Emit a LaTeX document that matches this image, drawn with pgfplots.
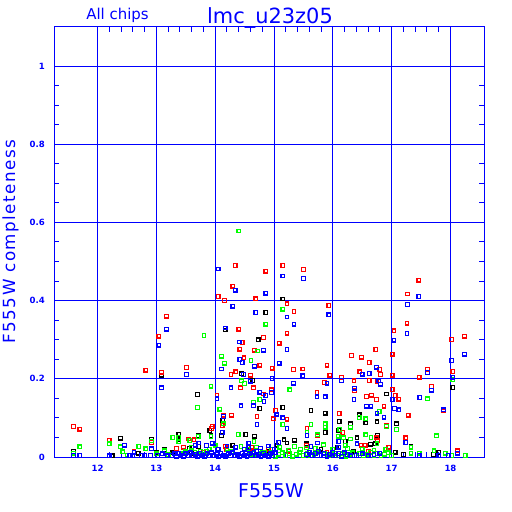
\documentclass[border=0pt]{standalone}
\usepackage{fontspec}
\setmainfont{DejaVu Sans}
\newfontfamily\ylabfont[LetterSpace=9]{DejaVu Sans}
\newfontfamily\tickfont{DejaVu Sans}
\usepackage{pgfplots}
\pgfplotsset{compat=1.18}
\begin{document}
\begin{tikzpicture}
\useasboundingbox (0,0) rectangle (512bp,512bp);
\begin{axis}[
  at={(54bp,55bp)}, anchor=south west,
  width=430bp, height=430bp, scale only axis,
  xmin=11.26, xmax=18.57, ymin=0, ymax=1.1,
  xtick={12,13,14,15,16,17,18},
  ytick={0,0.2,0.4,0.6,0.8,1},
  minor x tick num=4, minor y tick num=3,
  tick align=inside,
  major tick length=5bp, minor tick length=5bp,
  every tick/.style={blue, line width=1bp},
  axis line style={blue, line width=1bp},
  grid=major,
  major grid style={blue, line width=1bp},
  /pgf/number format/assume math mode=true,
  tick label style={font=\tickfont\bfseries\fontsize{8.6}{10}\selectfont, text=blue},
  xticklabel style={anchor=base, inner sep=0pt, yshift=-14bp},
  yticklabel style={anchor=east, inner sep=0pt, xshift=-9bp},
  clip=false,
  every axis plot/.append style={only marks, mark=square, mark size=1.8bp, line width=1.25bp},
]
% black
\addplot[black] coordinates {
(11.59,0.014) (12.39,0.048) (12.69,0.010) (12.92,0.046) (13.09,0.209) (13.14,0.019) (13.28,0.011) (13.38,0.058) (13.38,0.044) (13.56,0.022) (13.70,0.160) (13.71,0.055) (13.72,0.027) (13.91,0.068) (13.93,0.055) (14.11,0.055) (14.13,0.094) (14.17,0.325) (14.45,0.213) (14.52,0.058) (14.56,0.027) (14.64,0.196) (14.67,0.053) (14.73,0.30) (14.76,0.124) (14.86,0.37) (15.05,0.030) (15.15,0.404) (15.15,0.127) (15.17,0.044) (15.22,0.036) (15.35,0.043) (15.55,0.034) (15.63,0.119) (15.87,0.112) (15.87,0.063) (16.07,0.025) (16.10,0.068) (16.11,0.091) (16.21,0.040) (16.30,0.085) (16.41,0.049) (16.45,0.108) (16.56,0.087) (16.64,0.033) (16.72,0.034) (16.75,0.09) (16.76,0.055) (16.91,0.161) (17.06,0.012) (17.08,0.085) (17.20,0.006) (17.33,0.027) (17.76,0.055) (17.80,0.012) (17.71,0.006) (18.04,0.178) (12.25,0.003) (13.00,0.012) (13.60,0.010) (14.30,0.030) (14.90,0.015) (15.80,0.020) (16.35,0.015) (16.90,0.020)
};
% red
\addplot[red] coordinates {
(11.59,0.078) (11.70,0.071) (12.20,0.042) (12.62,0.014) (12.82,0.222) (12.92,0.037) (13.04,0.309) (13.09,0.217) (13.17,0.36) (13.34,0.022) (13.46,0.025) (13.51,0.229) (13.55,0.046) (13.64,0.044) (13.94,0.073) (13.95,0.078) (14.03,0.157) (14.05,0.411) (14.12,0.081) (14.14,0.107) (14.16,0.40) (14.17,0.027) (14.19,0.020) (14.27,0.211) (14.28,0.107) (14.30,0.437) (14.34,0.49) (14.35,0.218) (14.40,0.327) (14.42,0.276) (14.43,0.177) (14.44,0.027) (14.46,0.293) (14.49,0.254) (14.60,0.209) (14.62,0.025) (14.65,0.177) (14.67,0.273) (14.69,0.405) (14.71,0.104) (14.76,0.235) (14.82,0.161) (14.82,0.306) (14.86,0.475) (14.96,0.172) (14.97,0.227) (14.99,0.098) (15.03,0.119) (15.09,0.291) (15.15,0.49) (15.22,0.392) (15.22,0.317) (15.22,0.097) (15.33,0.224) (15.34,0.372) (15.49,0.225) (15.50,0.48) (15.55,0.029) (15.56,0.073) (15.73,0.165) (15.74,0.054) (15.86,0.191) (15.90,0.235) (15.93,0.388) (15.95,0.209) (16.11,0.111) (16.15,0.204) (16.17,0.063) (16.32,0.26) (16.36,0.195) (16.37,0.17) (16.46,0.218) (16.48,0.03) (16.49,0.255) (16.55,0.03) (16.57,0.155) (16.62,0.242) (16.62,0.196) (16.66,0.158) (16.73,0.275) (16.74,0.147) (16.74,0.049) (16.75,0.194) (16.76,0.043) (16.80,0.224) (16.81,0.211) (16.87,0.13) (16.91,0.081) (17.01,0.263) (17.01,0.209) (17.01,0.173) (17.04,0.323) (17.06,0.157) (17.12,0.148) (17.24,0.049) (17.26,0.342) (17.27,0.417) (17.28,0.107) (17.46,0.452) (17.47,0.204) (17.61,0.224) (17.68,0.18) (17.88,0.118) (18.02,0.301) (18.04,0.219) (18.12,0.016) (18.24,0.309)
(14.10,0.010) (14.60,0.012) (15.25,0.015) (15.90,0.012) (16.60,0.015) (16.95,0.025) (14.90,0.020) (13.80,0.012)
};
% green
\addplot[green] coordinates {
(11.59,0.010) (11.70,0.026) (12.20,0.034) (12.39,0.026) (12.43,0.013) (12.50,0.005) (12.55,0.004) (12.70,0.027) (12.82,0.021) (12.92,0.041) (13.00,0.008) (13.14,0.016) (13.20,0.006) (13.28,0.05) (13.38,0.05) (13.38,0.039) (13.45,0.008) (13.57,0.042) (13.50,0.013) (13.65,0.012) (13.70,0.127) (13.71,0.052) (13.81,0.311) (13.85,0.015) (13.93,0.181) (13.93,0.052) (14.00,0.03) (14.08,0.122) (14.11,0.258) (14.14,0.085) (14.16,0.24) (14.28,0.014) (14.39,0.058) (14.40,0.578) (14.44,0.027) (14.45,0.195) (14.50,0.188) (14.61,0.247) (14.65,0.139) (14.66,0.04) (14.72,0.271) (14.76,0.147) (14.86,0.34) (14.80,0.012) (15.15,0.378) (15.15,0.083) (15.27,0.172) (15.35,0.027) (15.55,0.023) (15.56,0.064) (15.63,0.083) (15.74,0.057) (15.84,0.031) (15.87,0.085) (15.87,0.076) (16.09,0.053) (16.12,0.07) (16.18,0.049) (16.21,0.03) (16.30,0.076) (16.30,0.046) (16.45,0.101) (16.56,0.098) (16.56,0.057) (16.65,0.05) (16.75,0.034) (16.79,0.116) (16.91,0.078) (17.08,0.07) (17.33,0.025) (17.33,0.01) (17.47,0.01) (17.61,0.149) (17.72,0.016) (17.76,0.054) (17.91,0.01) (18.02,0.004) (18.04,0.198) (18.25,0.004)
(14.60,0.006) (14.66,0.010) (14.72,0.003) (14.78,0.008) (14.84,0.012) (14.90,0.004) (14.96,0.009) (15.02,0.002) (15.08,0.007) (15.14,0.011) (15.20,0.004) (15.26,0.009) (15.32,0.002) (15.38,0.007) (15.44,0.012) (15.50,0.004) (15.56,0.009) (15.62,0.003) (15.68,0.007) (15.74,0.011) (15.80,0.004) (15.86,0.008) (15.92,0.003) (15.98,0.006) (16.04,0.010) (16.10,0.004) (16.16,0.008) (16.22,0.002) (16.28,0.007) (16.34,0.011) (16.40,0.004) (16.46,0.009) (16.52,0.003) (16.58,0.007) (16.64,0.012) (16.70,0.004) (16.76,0.009) (16.82,0.003) (16.88,0.007) (16.94,0.011) (17.00,0.004)
(14.55,0.02) (14.70,0.025) (14.95,0.02) (15.10,0.025) (15.25,0.018) (15.45,0.02) (15.70,0.022) (16.00,0.02) (16.25,0.022) (16.50,0.02) (16.70,0.018) (16.90,0.02) (13.90,0.02) (14.20,0.02) (13.60,0.025) (13.75,0.015)
};
% blue
\addplot[blue] coordinates {
(11.59,0.004) (11.70,0.004) (12.20,0.003) (12.46,0.03) (12.62,0.012) (12.60,0.004) (12.80,0.004) (12.92,0.021) (13.04,0.286) (13.09,0.177) (13.17,0.327) (13.51,0.211) (13.72,0.036) (13.85,0.029) (14.03,0.149) (14.05,0.481) (14.11,0.225) (14.12,0.063) (14.14,0.104) (14.17,0.33) (14.27,0.177) (14.30,0.386) (14.34,0.427) (14.41,0.294) (14.42,0.249) (14.44,0.131) (14.46,0.242) (14.48,0.211) (14.57,0.036) (14.57,0.024) (14.60,0.194) (14.65,0.131) (14.67,0.232) (14.69,0.37) (14.71,0.083) (14.76,0.166) (14.77,0.023) (14.82,0.273) (14.83,0.142) (14.86,0.419) (14.86,0.157) (14.97,0.201) (14.96,0.165) (15.04,0.108) (15.08,0.037) (15.09,0.24) (15.15,0.463) (15.22,0.358) (15.22,0.275) (15.22,0.073) (15.33,0.189) (15.34,0.34) (15.49,0.208) (15.50,0.457) (15.56,0.055) (15.63,0.027) (15.73,0.154) (15.74,0.036) (15.87,0.154) (15.90,0.189) (15.93,0.364) (16.10,0.04) (16.10,0.025) (16.15,0.196) (16.36,0.147) (16.37,0.176) (16.41,0.034) (16.50,0.212) (16.57,0.13) (16.62,0.214) (16.65,0.13) (16.74,0.23) (16.75,0.112) (16.78,0.195) (16.81,0.186) (16.87,0.102) (17.01,0.147) (17.04,0.299) (17.05,0.124) (17.12,0.121) (17.24,0.037) (17.26,0.316) (17.27,0.39) (17.46,0.411) (17.47,0.004) (17.48,0.152) (17.61,0.216) (17.68,0.171) (17.88,0.121) (17.80,0.004) (17.96,0.004) (18.02,0.247) (18.04,0.204) (18.12,0.01) (18.24,0.263) (15.15,0.10) (15.05,0.11)
(13.26,0.004) (13.30,0.008) (13.34,0.002) (13.38,0.010) (13.42,0.005) (13.46,0.002) (13.50,0.008) (13.54,0.004) (13.58,0.011) (13.62,0.003) (13.66,0.007) (13.70,0.002) (13.74,0.010) (13.78,0.005) (13.82,0.002) (13.86,0.008) (13.90,0.004) (13.94,0.011) (13.98,0.003) (14.02,0.007) (14.06,0.002) (14.10,0.010) (14.14,0.005) (14.18,0.002) (14.22,0.008) (14.26,0.004) (14.30,0.011) (14.34,0.003) (14.38,0.007) (14.42,0.002) (14.46,0.010) (14.50,0.005) (14.54,0.002) (14.58,0.008) (14.62,0.004) (14.66,0.012) (14.70,0.003) (14.74,0.007) (14.78,0.002) (14.82,0.010) (14.86,0.005) (14.90,0.002) (14.94,0.008) (14.98,0.004) (15.02,0.011)
(15.55,0.006) (15.60,0.012) (15.65,0.003) (15.70,0.009) (15.75,0.015) (15.80,0.004) (15.85,0.010) (15.90,0.002) (15.95,0.007) (16.00,0.012) (16.05,0.004) (16.10,0.009) (16.15,0.002) (16.20,0.011) (16.25,0.006) (16.30,0.003) (16.40,0.004) (16.50,0.008) (16.60,0.003) (16.70,0.006) (16.80,0.010)
(12.55,0.004) (12.75,0.004) (12.90,0.004) (13.02,0.004) (13.10,0.008) (13.18,0.003)
(13.66,0.03) (13.95,0.035) (14.05,0.02) (14.20,0.028) (14.35,0.025) (14.50,0.02) (14.70,0.015) (14.90,0.028) (15.00,0.02)
};
\end{axis}
\node[anchor=base, text=blue, font=\fontsize{21}{24}\selectfont] at (270bp,488.7bp) {lmc\_u23z05};
\node[anchor=base, text=blue, font=\fontsize{15}{18}\selectfont] at (117.5bp,492.7bp) {All chips};
\node[anchor=base, text=blue, font=\fontsize{19}{22}\selectfont] at (271bp,15bp) {F555W};
\node[anchor=base, rotate=90, text=blue, font=\ylabfont\fontsize{16.8}{20}\selectfont] at (15bp,270.5bp) {F555W completeness};
\end{tikzpicture}
\end{document}
